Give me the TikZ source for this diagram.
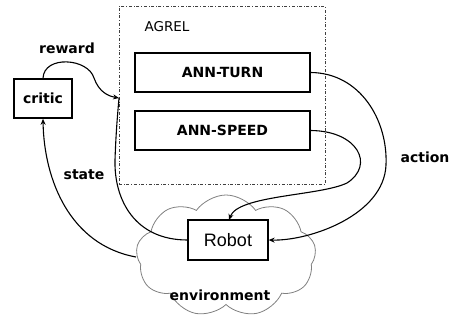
\documentclass[tikz,border=0pt]{standalone}
\usepackage{fontspec}
\setmainfont{DejaVu Sans}
\newfontfamily\robfont{Liberation Sans}
\usetikzlibrary{shapes.symbols,arrows.meta}
\tikzset{
  lab/.style={font=\fontsize{14}{16}\selectfont\bfseries, inner sep=0pt},
  annbox/.style={draw, line width=1.6pt, minimum width=175pt, minimum height=39pt, font=\fontsize{14}{16}\selectfont\bfseries, inner sep=0pt},
  conn/.style={line width=1.1pt, -{Stealth[length=6pt,width=5pt]}},
  plain/.style={line width=1.1pt},
}
\begin{document}
\begin{tikzpicture}[x=1pt,y=-1pt]
\useasboundingbox (0,0) rectangle (450,320);
% cloud
\node[cloud, draw=gray, line width=0.8pt, cloud puffs=9, cloud puff arc=110, aspect=1.5, minimum width=180pt, minimum height=122pt, inner sep=0pt] (env) at (226,256) {};
% agrel box
\node[draw=black!75, dash dot, line width=0.7pt, minimum width=206pt, minimum height=178pt, inner sep=0pt] (agrelbox) at (222,95) {};
\node[font=\fontsize{13.5}{15}\selectfont, inner sep=0pt] (agrellab) at (167,27) {AGREL};
\node[annbox] (turn) at (222.5,72.5) {ANN-TURN};
\node[annbox] (speed) at (222.5,130.5) {ANN-SPEED};
\node[draw, line width=1.6pt, minimum width=58pt, minimum height=39pt, inner sep=0pt, font=\fontsize{14}{16}\selectfont\bfseries] (critic) at (43,98.5) {critic};
\node[draw, fill=white, line width=1.3pt, minimum width=80pt, minimum height=40pt, inner sep=0pt, font=\robfont\fontsize{18}{20}\selectfont] (robot) at (228,240) {Robot};
% labels
\node[lab] (reward) at (67,48) {reward};
\node[lab] (state) at (84,175) {state};
\node[lab] (action) at (425,157) {action};
\node[lab] (envlab) at (220,295) {environment};
\coordinate (agrelin) at (119,98);
\coordinate (envleft) at (136,257);
% connectors
\draw[conn] (critic.north) .. controls (44,55) and (88,58) .. (94,78) .. controls (99,92) and (108,96) .. (agrelin);
\draw[plain] (robot.west) .. controls (135,240) and (114,200) .. (115,160) .. controls (116,130) and (118,110) .. (agrelin);
\draw[conn] (envleft) .. controls (70,245) and (44,180) .. (critic.south);
\draw[conn] (turn.east) .. controls (360,73) and (388,120) .. (386,165) .. controls (384,215) and (310,241) .. (robot.east);
\draw[conn] (speed.east) .. controls (358,131) and (375,165) .. (347,183) .. controls (320,196) and (238,195) .. (229,220);
\end{tikzpicture}
\end{document}
